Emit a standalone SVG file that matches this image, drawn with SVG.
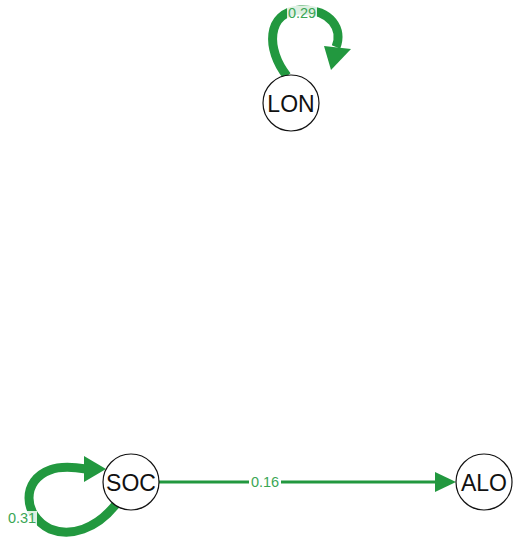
<svg xmlns="http://www.w3.org/2000/svg" width="531" height="541" viewBox="0 0 531 541">
<style>
.node circle{fill:#fff;stroke:#111;stroke-width:1.2}
.node text{font-family:"Liberation Sans",Arial,sans-serif;font-size:23px;fill:#111;text-anchor:middle;dominant-baseline:central}
.edge{fill:none;stroke:#22983f}
.ah{fill:#22983f}
.bg{fill:#fff;opacity:0.85}
.lbl{font-family:"Liberation Sans",Arial,sans-serif;font-size:14.5px;fill:#3aa655;text-anchor:middle;dominant-baseline:central}
</style>
<rect width="531" height="541" fill="#fff"/>
<g id="connectors">
  <path class="edge" stroke-width="9" d="M287 76 C266 50 266 12 300 10 C332 9 343 30 336 47"/>
  <polygon class="ah" points="324,46 351,49 331,70"/>
  <rect class="bg" x="287" y="6" width="30" height="15"/>
  <text class="lbl" x="302" y="13">0.29</text>
  <path class="edge" stroke-width="9" d="M117 503 C96 530 70 537 50 529 C22 515 22 480 50 470 C60 466 74 467 86 469"/>
  <polygon class="ah" points="84,456 106,469 84,482"/>
  <rect class="bg" x="8" y="511" width="29" height="15"/>
  <text class="lbl" x="22" y="518">0.31</text>
  <line class="edge" stroke-width="3" x1="159" y1="482" x2="440" y2="482"/>
  <polygon class="ah" points="435,472 456,482 435,492"/>
  <rect x="249" y="474" width="32" height="16" fill="#fff"/>
  <text class="lbl" x="265" y="482">0.16</text>
</g>
<g id="LON" class="node"><circle cx="291" cy="103" r="28"/><text x="291" y="104">LON</text></g>
<g id="SOC" class="node"><circle cx="131" cy="482" r="28"/><text x="131" y="483">SOC</text></g>
<g id="ALO" class="node"><circle cx="484" cy="482" r="28"/><text x="484" y="483">ALO</text></g>
</svg>
